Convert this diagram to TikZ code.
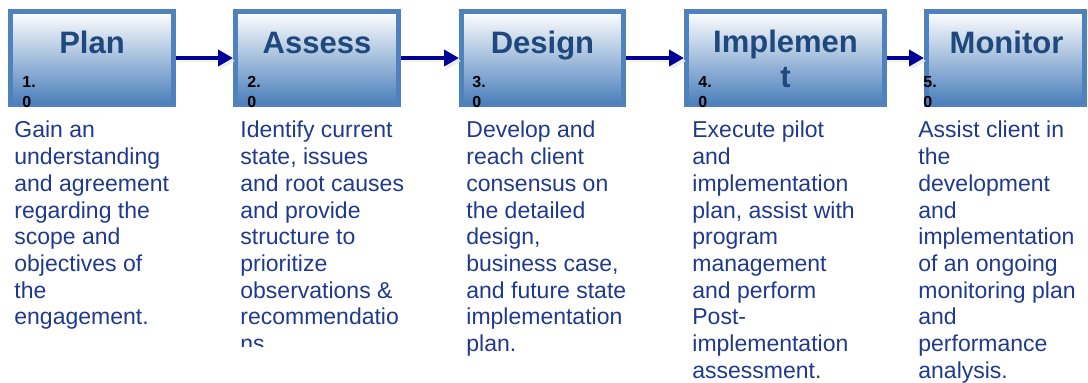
\documentclass[tikz,border=0pt]{standalone}
\usepackage{fontspec}
\setmainfont{Liberation Sans}
\usetikzlibrary{arrows.meta}
\definecolor{boxblue}{HTML}{4F81BD}
\definecolor{boxbottom}{HTML}{4A7EBB}
\definecolor{titleblue}{HTML}{1F497D}
\definecolor{textblue}{HTML}{1F3A8C}
\definecolor{arrowblue}{HTML}{000099}
\begin{document}
\begin{tikzpicture}[x=0.5pt,y=-0.5pt,
        phase/.style={draw=boxblue,line width=2.5pt,top color=white,bottom color=boxbottom,
            minimum height=46.5pt,inner sep=0pt},
        title/.style={font=\bfseries\fontsize{15.5}{17.5}\selectfont,text=titleblue,
            align=center,anchor=base,inner sep=0pt},
        number/.style={font=\bfseries\fontsize{8}{10}\selectfont,align=left,
            anchor=base west,inner sep=0pt},
        body/.style={font=\fontsize{11.5}{13.35}\selectfont,text=textblue,align=left,
            anchor=base west,inner sep=0pt},
        link/.style={-{Triangle[length=7.5pt,width=8pt]},line width=2pt,draw=arrowblue,
            preaction={draw=black!8,transform canvas={shift={(1pt,-1.5pt)}}}}]
                \useasboundingbox
                    (0,0) rectangle (1088,383);
                \node[phase,minimum width=81.5pt] (plan) at (92,58) {};
                \node[phase,minimum width=81.5pt] (assess) at (317,58) {};
                \node[phase,minimum width=81pt] (design) at (542.5,58) {};
                \node[phase,minimum width=99pt] (implement) at (785.5,58) {};
                \node[phase,minimum width=79pt] (monitor) at (1005.5,58) {};
                \node[title] (plan-t) at (92,54) {Plan};
                \node[title] (assess-t) at (317,54) {Assess};
                \node[title] (design-t) at (542.5,54) {Design};
                \node[title] (implement-t) at (785.5,88) {Implemen\\t};
                \node[title] (monitor-t) at (1006.5,54) {Monitor};
                \node[number] (plan-n) at (22,108) {1.\\0};
                \node[number] (assess-n) at (247,108) {2.\\0};
                \node[number] (design-n) at (472,108) {3.\\0};
                \node[number] (implement-n) at (698,108) {4.\\0};
                \node[number] (monitor-n) at (923,108) {5.\\0};
                \draw[link]
                    (plan) -- (assess);
                \draw[link]
                    (assess) -- (design);
                \draw[link]
                    (design) -- (implement);
                \draw[link]
                    (implement) -- (monitor);
                \node[body] (plan-b) at (14,324.9)
                    {Gain an\\understanding\\and agreement\\regarding the\\scope and\\objectives of\\the\\engagement.};
                \begin{scope}
                    \clip (230,110) rectangle (450,347);
                    \node[body] (assess-b) at (240,351.6)
                        {Identify current\\state, issues\\and root causes\\and provide\\structure to\\prioritize\\observations \&\\recommendatio\\ns};
                \end{scope}
                \node[body] (design-b) at (466,351.6)
                    {Develop and\\reach client\\consensus on\\the detailed\\design,\\business case,\\and future state\\implementation\\plan.};
                \node[body] (implement-b) at (692,378.3)
                    {Execute pilot\\and\\implementation\\plan, assist with\\program\\management\\and perform\\Post-\\implementation\\assessment.};
                \node[body] (monitor-b) at (918,378.3)
                    {Assist client in\\the\\development\\and\\implementation\\of an ongoing\\monitoring plan\\and\\performance\\analysis.};
            \end{tikzpicture}
\end{document}
